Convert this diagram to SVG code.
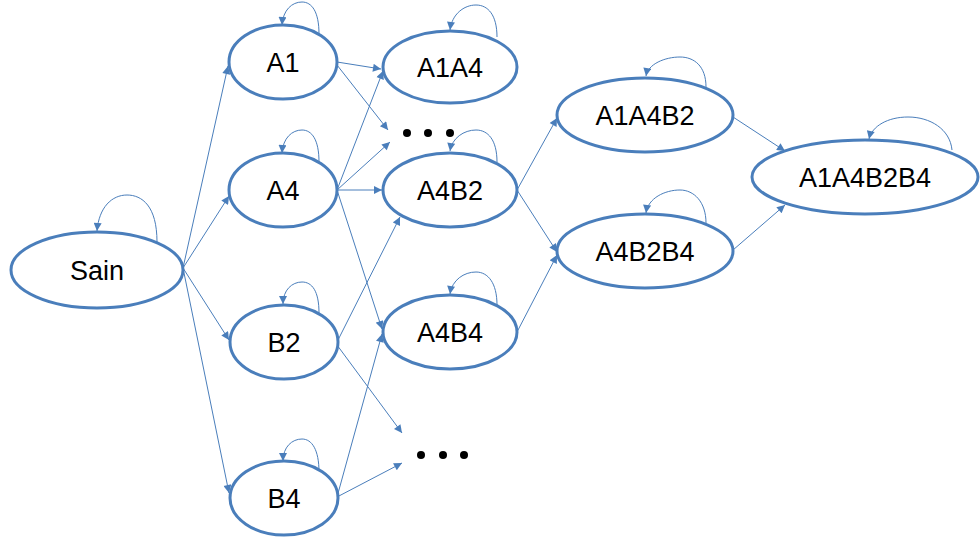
<svg xmlns="http://www.w3.org/2000/svg" width="980" height="537" viewBox="0 0 980 537">
<style>
.n ellipse{fill:#fff;stroke:#4a7ebb;stroke-width:3}
.n text{font-family:"Liberation Sans",Arial,sans-serif;font-size:27px;fill:#000;text-anchor:middle}
.e{fill:none;stroke:#4a7ebb;stroke-width:1;marker-end:url(#ah)}
.dot{fill:#000}
</style>
<defs>
<marker id="ah" viewBox="0 0 10 10" refX="10" refY="5" markerWidth="10" markerHeight="8" markerUnits="userSpaceOnUse" orient="auto">
<path d="M0,0 L10,5 L0,10 z" fill="#4a7ebb"/>
</marker>
</defs>
<g id="connectors">
<path class="e" d="M183,268 L228,66"/>
<path class="e" d="M183,268 L229,196"/>
<path class="e" d="M183,268 L229,340"/>
<path class="e" d="M183,268 L229,493"/>
<path class="e" d="M337,62 L381,69"/>
<path class="e" d="M337,65 L388,130"/>
<path class="e" d="M337,190 L383,71"/>
<path class="e" d="M337,190 L390,142"/>
<path class="e" d="M337,190 L382,190"/>
<path class="e" d="M337,190 L382,329"/>
<path class="e" d="M337,342 L400,217"/>
<path class="e" d="M337,345 L402,433"/>
<path class="e" d="M337,497 L382,334"/>
<path class="e" d="M337,497 L402,463"/>
<path class="e" d="M517,190 L557,118"/>
<path class="e" d="M517,190 L557,252"/>
<path class="e" d="M517,332 L557,255"/>
<path class="e" d="M733,117 L785,151"/>
<path class="e" d="M733,250 L785,205"/>
<path class="e" d="M157,242 C157,206 142,195 127,195 C112,195 99,207 97,231"/>
<path class="e" d="M319,34 C319,12 312,2 302,2 C292,2 283,10 282,25"/>
<path class="e" d="M319,162 C319,140 312,130 302,130 C292,130 283,138 282,153"/>
<path class="e" d="M319,313 C319,291 312,282 302,282 C292,282 283,290 283,304"/>
<path class="e" d="M319,472 C319,450 312,439 302,439 C292,439 283,447 283,461"/>
<path class="e" d="M497,37 C497,15 488,5 476,5 C464,5 452,14 450,30"/>
<path class="e" d="M497,162 C497,140 488,130 476,130 C464,130 452,138 450,151"/>
<path class="e" d="M497,305 C497,283 488,272 476,272 C464,272 452,280 450,294"/>
<path class="e" d="M706,87 C706,66 694,57 680,57 C665,57 648,64 646,76"/>
<path class="e" d="M706,223 C706,202 694,190 680,190 C665,190 648,198 646,213"/>
<path class="e" d="M952,150 C950,129 930,117 908,117 C888,117 872,126 869,139"/>
</g>
<g id="Sain" class="n"><ellipse cx="97" cy="270" rx="86" ry="38"/><text x="97" y="280">Sain</text></g>
<g id="A1" class="n"><ellipse cx="283" cy="62" rx="54" ry="37"/><text x="283" y="72">A1</text></g>
<g id="A4" class="n"><ellipse cx="283" cy="190" rx="54" ry="37"/><text x="283" y="200">A4</text></g>
<g id="B2" class="n"><ellipse cx="284" cy="342" rx="54" ry="37"/><text x="284" y="352">B2</text></g>
<g id="B4" class="n"><ellipse cx="284" cy="498" rx="54" ry="37"/><text x="284" y="508">B4</text></g>
<g id="A1A4" class="n"><ellipse cx="450" cy="67" rx="67" ry="36"/><text x="450" y="77">A1A4</text></g>
<g id="A4B2" class="n"><ellipse cx="450" cy="190" rx="67" ry="37"/><text x="450" y="200">A4B2</text></g>
<g id="A4B4" class="n"><ellipse cx="450" cy="332" rx="67" ry="37"/><text x="450" y="342">A4B4</text></g>
<g id="A1A4B2" class="n"><ellipse cx="645" cy="115" rx="88" ry="37"/><text x="645" y="125">A1A4B2</text></g>
<g id="A4B2B4" class="n"><ellipse cx="645" cy="251" rx="88" ry="37"/><text x="645" y="261">A4B2B4</text></g>
<g id="A1A4B2B4" class="n"><ellipse cx="865" cy="177" rx="113" ry="37"/><text x="865" y="187">A1A4B2B4</text></g>
<g id="dots1"><circle class="dot" cx="407" cy="133" r="4"/><circle class="dot" cx="428" cy="133" r="4"/><circle class="dot" cx="450" cy="133" r="4"/></g>
<g id="dots2"><circle class="dot" cx="421" cy="455" r="4"/><circle class="dot" cx="443" cy="455" r="4"/><circle class="dot" cx="464" cy="455" r="4"/></g>
</svg>
